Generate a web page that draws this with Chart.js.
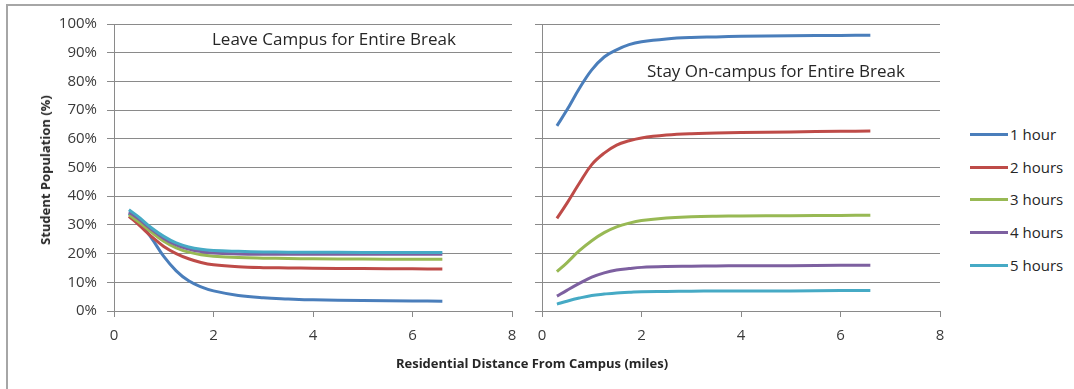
<!DOCTYPE html>
<html>
<head>
<meta charset="utf-8">
<script src="https://cdn.jsdelivr.net/npm/chart.js@4/dist/chart.umd.min.js"></script>
<style>
  html, body { margin: 0; padding: 0; background: #fff; }
  body { width: 1074px; height: 389px; position: relative; overflow: hidden; font-family: "Open Sans", sans-serif; }
  #frame { position: absolute; left: 6px; top: 4px; width: 1200px; height: 500px;
           border-left: 2px solid #a6a6a6; border-top: 2px solid #a6a6a6; }
  canvas { position: absolute; top: 0; }
  #leaveCanvas { left: 0; }
  #stayCanvas { left: 520px; }
  .panel-title { position: absolute; font-size: 17px; color: #262626; white-space: nowrap; line-height: 1; }
  #leaveTitle { left: 212px; top: 30px; }
  #stayTitle { left: 647px; top: 62px; }
  #yTitle { position: absolute; left: 45px; top: 170px; transform: translate(-50%, -50%) rotate(-90deg);
            font-weight: bold; font-size: 13px; color: #262626; white-space: nowrap; }
  #xTitle { position: absolute; left: 532px; top: 363px; transform: translate(-50%, -50%);
            font-weight: bold; font-size: 13px; color: #262626; white-space: nowrap; }
  #legend { position: absolute; left: 970px; top: 0; }
  .legend-item { position: absolute; left: 0; display: flex; align-items: center; white-space: nowrap;
                 transform: translateY(-50%); font-size: 15px; color: #262626; }
  .legend-line { width: 38px; height: 3px; margin-right: 2px; }
</style>
</head>
<body>
<div id="frame"></div>
<canvas id="leaveCanvas" width="530" height="389"></canvas>
<canvas id="stayCanvas" width="440" height="389"></canvas>
<div class="panel-title" id="leaveTitle">Leave Campus for Entire Break</div>
<div class="panel-title" id="stayTitle">Stay On-campus for Entire Break</div>
<div id="yTitle">Student Population (%)</div>
<div id="xTitle">Residential Distance From Campus (miles)</div>
<div id="legend"></div>
<script>
// Residential distance from campus (miles)
const distances = [0.3, 0.5, 0.75, 1, 1.25, 1.5, 1.75, 2, 2.5, 3, 3.5, 4, 5, 6, 6.6];

const seriesNames = ['1 hour', '2 hours', '3 hours', '4 hours', '5 hours'];
const seriesColors = ['#4A7EBB', '#BE4B48', '#98B954', '#7D60A0', '#46AAC5'];

// Share of students leaving campus for the whole break (%)
const leave1h = [34, 31, 25.5, 19, 14, 10.5, 8.4, 7.0, 5.4, 4.6, 4.2, 3.9, 3.7, 3.5, 3.4];
const leave2h = [33, 30, 26, 22.5, 20, 18.2, 16.9, 16.1, 15.4, 15.1, 15.0, 14.9, 14.8, 14.7, 14.6];
const leave3h = [33.5, 31, 27.5, 24.3, 22, 20.5, 19.6, 19.1, 18.6, 18.4, 18.3, 18.2, 18.1, 18.0, 18.0];
const leave4h = [34.5, 32, 28.5, 25.3, 23, 21.6, 20.7, 20.2, 19.9, 19.8, 19.8, 19.8, 19.8, 19.8, 19.8];
const leave5h = [35.3, 32.7, 29, 26, 23.7, 22.3, 21.5, 21.1, 20.8, 20.6, 20.5, 20.5, 20.4, 20.4, 20.4];

// Share of students staying on campus for the whole break (%)
const stay1h = [64.5, 70, 77.5, 84, 88.5, 91, 92.8, 93.8, 94.8, 95.3, 95.5, 95.7, 95.9, 96.0, 96.1];
const stay2h = [32.3, 37.5, 44.5, 51, 55, 57.8, 59.3, 60.3, 61.3, 61.8, 62.0, 62.2, 62.4, 62.6, 62.7];
const stay3h = [13.7, 16.8, 21, 24.5, 27.3, 29.3, 30.6, 31.5, 32.4, 32.8, 33.0, 33.1, 33.2, 33.3, 33.4];
const stay4h = [5.2, 7.2, 9.6, 11.8, 13.3, 14.3, 14.8, 15.2, 15.5, 15.6, 15.7, 15.8, 15.8, 15.9, 15.9];
const stay5h = [2.4, 3.4, 4.5, 5.4, 5.9, 6.3, 6.5, 6.7, 6.8, 6.9, 7.0, 7.0, 7.0, 7.1, 7.1];

const xTicks = [0, 2, 4, 6, 8];
const yTickStep = 10;

const gridGray = '#8a8a8a';
const tickText = '#3a3a3a';
const tickFont = { family: 'Open Sans', size: 15 };

function buildDatasets(seriesList) {
  return seriesList.map((values, i) => ({
    label: seriesNames[i],
    data: distances.map((d, j) => ({ x: d, y: values[j] })),
    borderColor: seriesColors[i],
    backgroundColor: seriesColors[i],
    borderWidth: 3,
    pointRadius: 0,
    tension: 0.4,
    fill: false,
    order: seriesList.length - 1 - i   // later series painted on top
  }));
}

function buildOptions(showYLabels, yWidth, rightPad) {
  return {
    responsive: false,
    animation: false,
    events: [],
    layout: { padding: { left: 0, right: rightPad, top: 24, bottom: 0 } },
    plugins: { legend: { display: false }, tooltip: { enabled: false } },
    scales: {
      x: {
        type: 'linear',
        min: xTicks[0],
        max: xTicks[xTicks.length - 1],
        afterBuildTicks: (s) => { s.ticks = xTicks.map(v => ({ value: v })); },
        afterFit: (s) => { s.height = 78; },
        grid: { drawOnChartArea: false, drawTicks: true, tickLength: 6, color: gridGray, lineWidth: 1 },
        border: { display: true, color: gridGray, width: 1 },
        ticks: { color: tickText, font: tickFont, padding: 10, maxRotation: 0 }
      },
      y: {
        type: 'linear',
        min: 0,
        max: 100,
        afterFit: (s) => { s.width = yWidth; },
        grid: { drawOnChartArea: true, drawTicks: true, tickLength: 7, color: gridGray, lineWidth: 1 },
        border: { display: true, color: gridGray, width: 1 },
        ticks: {
          display: showYLabels,
          stepSize: yTickStep,
          color: tickText,
          font: tickFont,
          padding: 10,
          callback: (v) => v + '%'
        }
      }
    }
  };
}

new Chart(document.getElementById('leaveCanvas'), {
  type: 'line',
  data: { datasets: buildDatasets([leave1h, leave2h, leave3h, leave4h, leave5h]) },
  options: buildOptions(true, 114, 18)
});

new Chart(document.getElementById('stayCanvas'), {
  type: 'line',
  data: { datasets: buildDatasets([stay1h, stay2h, stay3h, stay4h, stay5h]) },
  options: buildOptions(false, 22, 20)
});

// Legend entries
const legendTops = [134, 167, 199, 232, 265];
const legend = document.getElementById('legend');
seriesNames.forEach((name, i) => {
  const item = document.createElement('div');
  item.className = 'legend-item';
  item.style.top = legendTops[i] + 'px';
  const line = document.createElement('span');
  line.className = 'legend-line';
  line.style.background = seriesColors[i];
  const label = document.createElement('span');
  label.textContent = name;
  item.appendChild(line);
  item.appendChild(label);
  legend.appendChild(item);
});
</script>
</body>
</html>
